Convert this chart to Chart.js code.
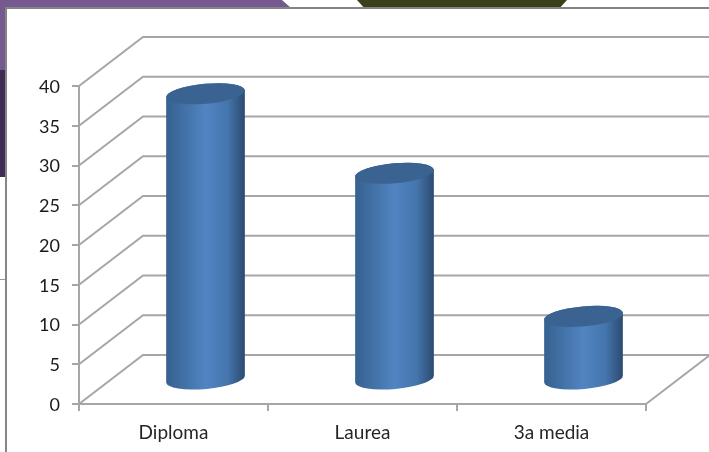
<!DOCTYPE html>
<html>
<head>
<meta charset="utf-8">
<script src="https://cdn.jsdelivr.net/npm/chart.js@4"></script>
<style>
    html, body { margin: 0; padding: 0; background: #fff; overflow: hidden; }
    #stage { position: relative; width: 709px; height: 452px; overflow: hidden; }
    #chart { position: absolute; left: 0; top: 0; }
    .deco { position: absolute; }
</style>
</head>
<body>
<div id="stage">
    <!-- slide behind the chart panel -->
    <div class="deco" style="left:0;top:0;width:291px;height:70px;background:#75598f;clip-path:polygon(0 0,282px 0,291px 8px,6px 8px,6px 70px,0 70px)"></div>
    <div class="deco" style="left:0;top:70px;width:5px;height:107px;background:#3f2d55"></div>
    <div class="deco" style="left:0;top:279px;width:5px;height:1px;background:#9a9a9a"></div>
    <div class="deco" style="left:357px;top:0;width:210px;height:7px;background:#3b401c;clip-path:polygon(0 0,100% 0,97% 100%,3% 100%)"></div>
    <div class="deco" style="left:5px;top:7px;width:704px;height:2px;background:#858585"></div>
    <div class="deco" style="left:5px;top:7px;width:2px;height:445px;background:#858585"></div>
    <canvas id="chart" width="709" height="452"></canvas>
</div>
<script>
const categories = ["Diploma", "Laurea", "3a media"];
const values = [36, 26, 8];
const yTicks = [0, 5, 10, 15, 20, 25, 30, 35, 40];

const gridColor = "#a6a6a6";
const depthX = 64;
const depthY = 49;

// back wall and floor of the 3D box
const wallPlugin = {
    id: "wall",
    beforeDatasetsDraw(chart) {
        const { ctx, chartArea, scales } = chart;
        ctx.save();
        ctx.strokeStyle = gridColor;
        ctx.lineWidth = 2;
        yTicks.forEach(t => {
            const y = scales.y.getPixelForValue(t);
            ctx.beginPath();
            ctx.moveTo(chartArea.left, y);
            ctx.lineTo(chartArea.left + depthX, y - depthY);
            ctx.lineTo(t === 0 ? chartArea.right + depthX : chart.width, y - depthY);
            if (t === 0) ctx.lineTo(chartArea.right, y);
            ctx.stroke();
        });
        ctx.restore();
    }
};

// bars are drawn as cylinders standing halfway into the box
const cylinderPlugin = {
    id: "cylinder",
    afterDatasetsDraw(chart) {
        const { ctx } = chart;
        chart.getDatasetMeta(0).data.forEach(bar => {
            const cx = bar.x + depthX / 2;
            const top = bar.y - 24;
            const base = bar.base - 24;
            const rx = bar.width / 2;
            const ry = 10;
            const rot = -0.09;

            const grad = ctx.createLinearGradient(cx - rx, 0, cx + rx, 0);
            grad.addColorStop(0, "#36618f");
            grad.addColorStop(0.5, "#5184c2");
            grad.addColorStop(0.78, "#4475ac");
            grad.addColorStop(1, "#2c4a70");

            ctx.save();
            ctx.beginPath();
            ctx.ellipse(cx, base, rx, ry, rot, 0, Math.PI);
            ctx.ellipse(cx, top, rx, ry, rot, Math.PI, Math.PI * 2);
            ctx.closePath();
            ctx.fillStyle = grad;
            ctx.fill();

            ctx.beginPath();
            ctx.ellipse(cx, top, rx, ry, rot, 0, Math.PI * 2);
            ctx.fillStyle = "#3a6391";
            ctx.fill();
            ctx.restore();
        });
    }
};

new Chart(document.getElementById("chart"), {
    type: "bar",
    data: {
        labels: categories,
        datasets: [{
            data: values,
            backgroundColor: "rgba(0,0,0,0)",
            barPercentage: 0.418,
            categoryPercentage: 1
        }]
    },
    plugins: [wallPlugin, cylinderPlugin],
    options: {
        responsive: false,
        animation: false,
        layout: { padding: { top: 86, right: 63, left: 0, bottom: 0 } },
        plugins: { legend: { display: false }, tooltip: { enabled: false } },
        scales: {
            x: {
                afterFit(scale) { scale.height = 48; },
                border: { color: gridColor, width: 2 },
                grid: { color: gridColor, lineWidth: 2, drawOnChartArea: false, tickLength: 7, offset: true },
                ticks: { color: "#262626", padding: 10, font: { family: "Lato", size: 19 } }
            },
            y: {
                min: 0,
                max: 40,
                afterFit(scale) { scale.width = 79; },
                afterBuildTicks(scale) { scale.ticks = yTicks.map(v => ({ value: v })); },
                border: { color: gridColor, width: 2 },
                grid: { color: gridColor, lineWidth: 2, drawOnChartArea: false, tickLength: 7 },
                ticks: { color: "#1a1a1a", padding: 12, labelOffset: 1, font: { family: "Lato", size: 18 } }
            }
        }
    }
});
</script>
</body>
</html>
